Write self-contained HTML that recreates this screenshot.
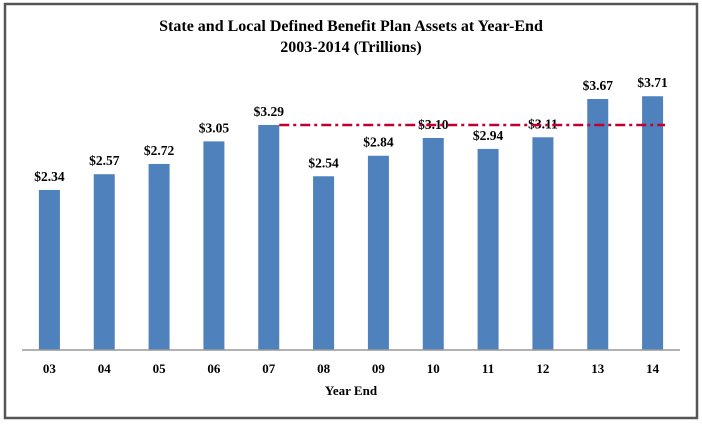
<!DOCTYPE html>
<html><head><meta charset="utf-8"><style>
html,body{margin:0;padding:0;background:#fff;}
svg{display:block;font-family:"Liberation Serif",serif;}
</style></head><body>
<svg id="chart" width="702" height="425">
<rect x="5" y="4" width="692" height="414" fill="#fff" stroke="#555" stroke-width="2.5"/>
<text x="351" y="31" text-anchor="middle" font-size="16" font-weight="bold">State and Local Defined Benefit Plan Assets at Year-End</text>
<text x="351" y="52" text-anchor="middle" font-size="16" font-weight="bold">2003-2014 (Trillions)</text>
<g id="bars"></g>
<line x1="22" y1="350" x2="680" y2="350" stroke="#999" stroke-width="1.5"/>
<text x="351" y="395" text-anchor="middle" font-size="13" font-weight="bold">Year End</text>
</svg>
<script>
const categories = ["03","04","05","06","07","08","09","10","11","12","13","14"];
const values = [2.34,2.57,2.72,3.05,3.29,2.54,2.84,3.10,2.94,3.11,3.67,3.71];
const labels = ["$2.34","$2.57","$2.72","$3.05","$3.29","$2.54","$2.84","$3.10","$2.94","$3.11","$3.67","$3.71"];
const refValue = 3.29;
const refStartIndex = 4;
const NS="http://www.w3.org/2000/svg";
const x0=22,x1=680,base=350,ppu=68.4,bw=21;
const step=(x1-x0)/categories.length;
function xc(i){return x0+(i+0.5)*step;}
function y(v){return base-v*ppu;}
const g=document.getElementById('bars');
categories.forEach((c,i)=>{
  const r=document.createElementNS(NS,'rect');
  r.setAttribute('x',xc(i)-bw/2);r.setAttribute('y',y(values[i]));
  r.setAttribute('width',bw);r.setAttribute('height',base-y(values[i]));
  r.setAttribute('fill','#4f81bd');
  
  
  g.appendChild(r);
  const t=document.createElementNS(NS,'text');
  t.setAttribute('x',xc(i));t.setAttribute('y',y(values[i])-9);
  t.setAttribute('text-anchor','middle');t.setAttribute('font-size','13.5');t.setAttribute('font-weight','bold');
  t.textContent=labels[i];
  
  
  g.appendChild(t);
  const k=document.createElementNS(NS,'text');
  k.setAttribute('x',xc(i));k.setAttribute('y',373);
  k.setAttribute('text-anchor','middle');k.setAttribute('font-size','13');k.setAttribute('font-weight','bold');
  k.textContent=c;
  
  
  g.appendChild(k);
});
const l=document.createElementNS(NS,'line');
l.setAttribute('x1',xc(refStartIndex)+bw/2);l.setAttribute('x2',665);
l.setAttribute('y1',y(refValue));l.setAttribute('y2',y(refValue));
l.setAttribute('stroke','#c00030');l.setAttribute('stroke-width','2.5');
l.setAttribute('stroke-dasharray','10 4 3 4');


g.appendChild(l);
</script>
</body></html>
